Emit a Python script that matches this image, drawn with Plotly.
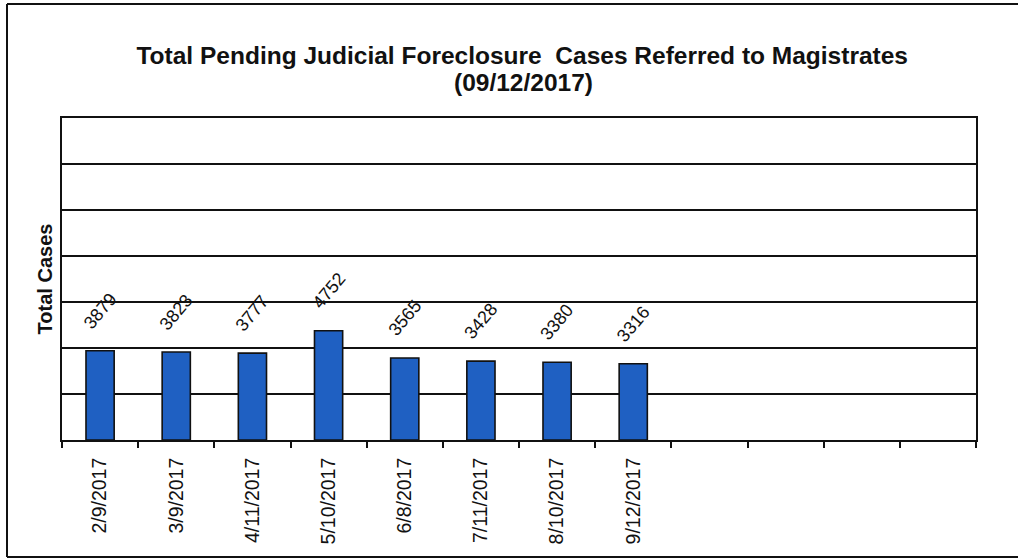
import plotly.graph_objects as go

categories = ["2/9/2017", "3/9/2017", "4/11/2017", "5/10/2017", "6/8/2017",
              "7/11/2017", "8/10/2017", "9/12/2017", " ", "  ", "   ", "    "]
values = [3879, 3823, 3777, 4752, 3565, 3428, 3380, 3316]
title_line1 = "Total Pending Judicial Foreclosure  Cases Referred to Magistrates"
title_line2 = "(09/12/2017)"
y_title = "Total Cases"

FONT = "Liberation Sans, Arial"

fig = go.Figure()
fig.add_trace(go.Bar(
    x=categories[:len(values)], y=values,
    marker=dict(color="#1f60c2", line=dict(color="#111111", width=1.6)),
    width=0.37,
))
fig.add_trace(go.Bar(x=categories[len(values):], y=[None]*(len(categories)-len(values)),
                     showlegend=False))

for c, v in zip(categories, values):
    fig.add_annotation(x=c, y=v, text=str(v), textangle=-50, showarrow=False,
                       yshift=40,
                       font=dict(family=FONT, size=18, color="#111"))

L, R, T, B = 62, 42, 118, 119
W, H = 1018, 559
pw, ph = W - L - R, H - T - B

fig.update_layout(
    width=W, height=H,
    margin=dict(l=L, r=R, t=T, b=B),
    paper_bgcolor="white", plot_bgcolor="white",
    showlegend=False,
    barmode="overlay",
    title=dict(text="<b>" + title_line1 + "</b>",
               x=0.513, xanchor="center", y=1 - 55 / H, yanchor="middle",
               font=dict(family=FONT, size=24.5, color="#111")),
    xaxis=dict(type="category", categoryorder="array", categoryarray=categories,
               range=[-0.5, len(categories) - 0.5],
               tickangle=-90, tickson="boundaries", ticks="outside", ticklen=6,
               tickcolor="#111", tickwidth=1.6, ticklabelstandoff=8,
               showline=True, linecolor="#111", linewidth=1.8, mirror=True,
               showgrid=False,
               tickfont=dict(family=FONT, size=19.5, color="#111")),
    yaxis=dict(range=[0, 14000], dtick=2000, showticklabels=False,
               showgrid=True, gridcolor="#111", gridwidth=1.8,
               showline=True, linecolor="#111", linewidth=1.8, mirror=True,
               zeroline=False,
               title=dict(text="<b>" + y_title + "</b>", standoff=2,
                          font=dict(family=FONT, size=20, color="#111"))),
)

fig.add_annotation(xref="paper", yref="paper", x=(523 - L) / pw, y=1 + (T - 83) / ph,
                   xanchor="center", yanchor="middle", showarrow=False,
                   text="<b>" + title_line2 + "</b>",
                   font=dict(family=FONT, size=24.5, color="#111"))

# outer frame of the scanned chart (left, top and bottom edges only)
fx = (7 - L) / pw
fx_end = 1.5
fy_top = 1 + (T - 4) / ph
fy_bot = -(557 - (H - B)) / ph
fig.add_shape(type="line", xref="paper", yref="paper", x0=fx, x1=fx_end, y0=fy_top, y1=fy_top,
              line=dict(color="#111", width=2), layer="below")
fig.add_shape(type="line", xref="paper", yref="paper", x0=fx, x1=fx, y0=fy_bot, y1=fy_top,
              line=dict(color="#111", width=2), layer="below")
fig.add_shape(type="line", xref="paper", yref="paper", x0=fx, x1=fx_end, y0=fy_bot, y1=fy_bot,
              line=dict(color="#111", width=2), layer="below")

fig.write_html("out.html", config={"displayModeBar": False},
               post_script="document.body.style.margin='0';document.body.style.overflow='hidden';")
